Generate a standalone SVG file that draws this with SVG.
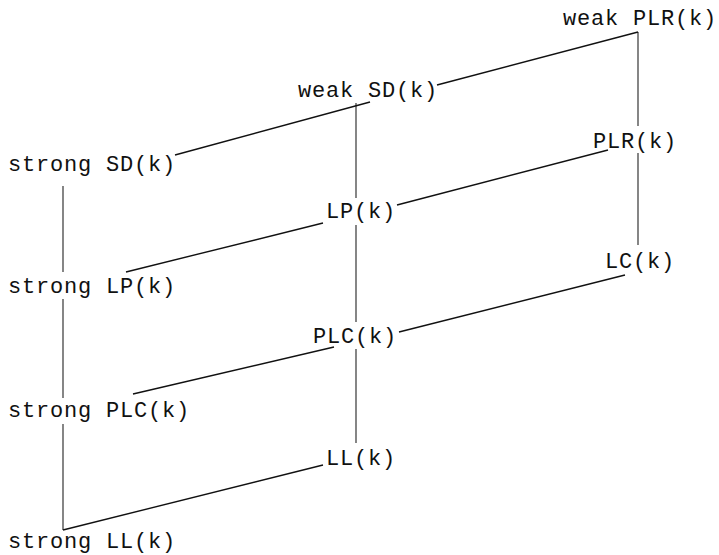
<svg xmlns="http://www.w3.org/2000/svg" width="719" height="555" viewBox="0 0 719 555">
<style>
.lbl{font-family:"Liberation Mono","Courier New",monospace;font-size:22px;letter-spacing:0.8px;fill:#111}
.c line{stroke:#111;stroke-width:1.4;fill:none}
.c line.v{stroke:#222;stroke-width:1.1}
</style>
<rect width="719" height="555" fill="#fff"/>
<g id="connectors" class="c">
<line class="v" x1="63" y1="186" x2="63" y2="272"/>
<line class="v" x1="63" y1="299" x2="63" y2="398"/>
<line class="v" x1="63" y1="424" x2="63" y2="530"/>
<line class="v" x1="356" y1="103" x2="356" y2="198"/>
<line class="v" x1="356" y1="225" x2="356" y2="322"/>
<line class="v" x1="356" y1="349" x2="356" y2="443"/>
<line class="v" x1="638" y1="32" x2="638" y2="126"/>
<line class="v" x1="638" y1="153" x2="638" y2="245"/>
<line x1="437" y1="85" x2="638" y2="32"/>
<line x1="175" y1="155" x2="370" y2="102"/>
<line x1="397" y1="205" x2="608" y2="150"/>
<line x1="126" y1="272" x2="323" y2="223"/>
<line x1="399" y1="332" x2="625" y2="275"/>
<line x1="133" y1="394" x2="334" y2="347"/>
<line x1="63" y1="530" x2="323" y2="465"/>
</g>
<g id="weak-PLR"><text class="lbl" x="563" y="25">weak PLR(k)</text></g>
<g id="weak-SD"><text class="lbl" x="298" y="97">weak SD(k)</text></g>
<g id="strong-SD"><text class="lbl" x="8" y="171">strong SD(k)</text></g>
<g id="PLR"><text class="lbl" x="593" y="148">PLR(k)</text></g>
<g id="LP"><text class="lbl" x="326" y="218">LP(k)</text></g>
<g id="strong-LP"><text class="lbl" x="8" y="293">strong LP(k)</text></g>
<g id="LC"><text class="lbl" x="605" y="268">LC(k)</text></g>
<g id="PLC"><text class="lbl" x="313" y="343">PLC(k)</text></g>
<g id="strong-PLC"><text class="lbl" x="8" y="417">strong PLC(k)</text></g>
<g id="LL"><text class="lbl" x="326" y="465">LL(k)</text></g>
<g id="strong-LL"><text class="lbl" x="8" y="548">strong LL(k)</text></g>
</svg>
